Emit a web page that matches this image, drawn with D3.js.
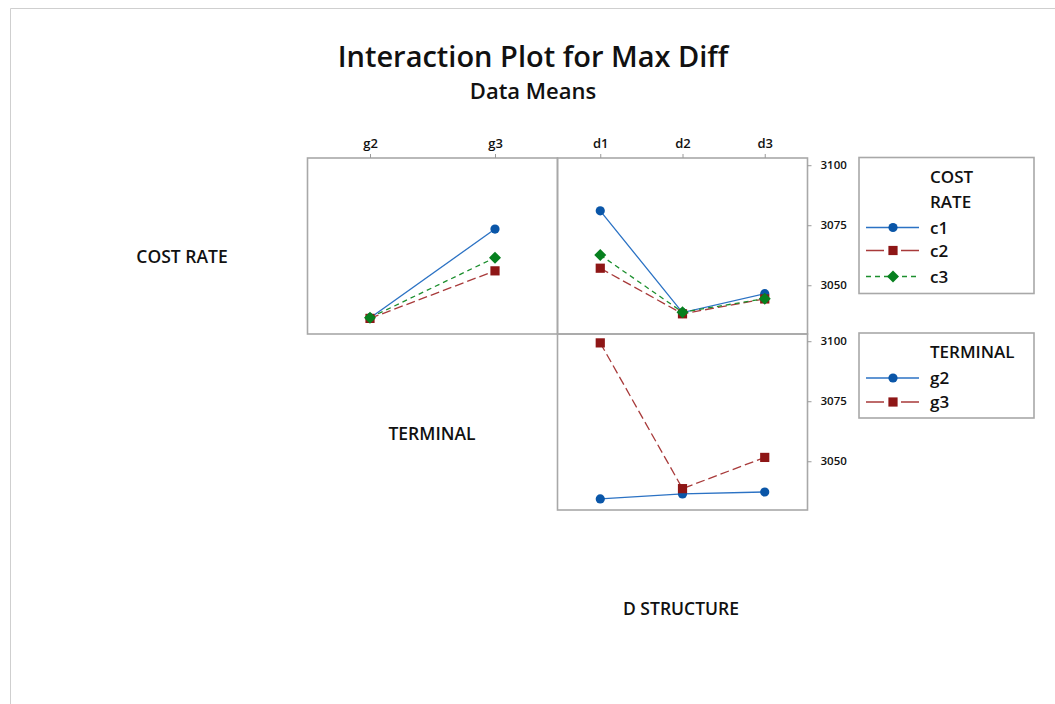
<!DOCTYPE html>
<html>
<head>
<meta charset="utf-8">
<script src="https://cdn.jsdelivr.net/npm/d3@7"></script>
<style>
  html, body { margin: 0; padding: 0; background: #ffffff; }
  svg { display: block; }
  text { font-family: "Open Sans", "Noto Sans", sans-serif; fill: #111; }
</style>
</head>
<body>
<svg id="chart" width="1055" height="704"></svg>
<script>
// Factor levels
const costRateLevels = ["c1", "c2", "c3"];
const terminalLevels = ["g2", "g3"];
const dStructureLevels = ["d1", "d2", "d3"];
const yTicks = [3050, 3075, 3100];

// Means of Max Diff: COST RATE traces over TERMINAL
const c1ByTerminal = [3036.4, 3073.4];
const c2ByTerminal = [3036.2, 3056.0];
const c3ByTerminal = [3036.5, 3061.5];

// Means of Max Diff: COST RATE traces over D STRUCTURE
const c1ByDStructure = [3081.0, 3038.6, 3046.5];
const c2ByDStructure = [3057.1, 3038.1, 3044.3];
const c3ByDStructure = [3062.6, 3038.8, 3044.4];

// Means of Max Diff: TERMINAL traces over D STRUCTURE
const g2ByDStructure = [3034.3, 3036.4, 3037.2];
const g3ByDStructure = [3099.3, 3038.6, 3051.6];

const svg = d3.select("#chart");

// series styles
const styles = {
  c1: { line: "#2b72c4", fill: "#0a56a8", dash: null, shape: "circle" },
  c2: { line: "#a83a3a", fill: "#8e1616", dash: "9,4", shape: "square" },
  c3: { line: "#1c8f2e", fill: "#07801f", dash: "5,4", shape: "diamond" },
  g2: { line: "#2b72c4", fill: "#0a56a8", dash: null, shape: "circle" },
  g3: { line: "#a83a3a", fill: "#8e1616", dash: "9,4", shape: "square" }
};

function drawMarker(g, shape, x, y, color) {
  if (shape === "circle") {
    g.append("circle").attr("cx", x).attr("cy", y).attr("r", 4.6).attr("fill", color);
  } else if (shape === "square") {
    g.append("rect").attr("x", x - 4.6).attr("y", y - 4.6).attr("width", 9.2).attr("height", 9.2).attr("fill", color);
  } else {
    g.append("path")
      .attr("d", d3.symbol().type(d3.symbolSquare).size(72)())
      .attr("transform", `translate(${x},${y}) rotate(45)`)
      .attr("fill", color);
  }
}

// outer frame of the graph window
svg.append("path")
  .attr("d", "M10.5,704 V8.5 H1055")
  .attr("fill", "none").attr("stroke", "#cfcfcf").attr("stroke-width", 1);

// titles
svg.append("text").attr("x", 533).attr("y", 67).attr("text-anchor", "middle")
  .style("font-size", "29px").style("font-weight", 600).text("Interaction Plot for Max Diff");
svg.append("text").attr("x", 533).attr("y", 99).attr("text-anchor", "middle")
  .style("font-size", "22px").style("font-weight", 600).text("Data Means");

// panel geometry
const panelW = 250, panelH = 176;
const col0 = 307.5, col1 = 557.5;
const row0 = 158, row1 = 334;

const y = d3.scaleLinear().domain([3029.7, 3103.0]).range([panelH, 0]);
const xTerminal = d3.scalePoint().domain(terminalLevels).range([0, panelW]).padding(0.5);
const xDStructure = d3.scalePoint().domain(dStructureLevels).range([0, panelW]).padding(0.52);

function panel(px, py, xScale, series) {
  const g = svg.append("g").attr("transform", `translate(${px},${py})`);
  g.append("rect").attr("width", panelW).attr("height", panelH)
    .attr("fill", "none").attr("stroke", "#a8a8a8").attr("stroke-width", 1.6);
  const line = d3.line().x((d, i) => xScale(xScale.domain()[i])).y(d => y(d));
  series.forEach(s => {
    const st = styles[s.key];
    g.append("path").attr("d", line(s.values))
      .attr("fill", "none").attr("stroke", st.line).attr("stroke-width", 1.3)
      .attr("stroke-dasharray", st.dash);
  });
  series.forEach(s => {
    const st = styles[s.key];
    s.values.forEach((v, i) => drawMarker(g, st.shape, xScale(xScale.domain()[i]), y(v), st.fill));
  });
  return g;
}

panel(col0, row0, xTerminal, [
  { key: "c1", values: c1ByTerminal },
  { key: "c2", values: c2ByTerminal },
  { key: "c3", values: c3ByTerminal }
]);
panel(col1, row0, xDStructure, [
  { key: "c1", values: c1ByDStructure },
  { key: "c2", values: c2ByDStructure },
  { key: "c3", values: c3ByDStructure }
]);
panel(col1, row1, xDStructure, [
  { key: "g2", values: g2ByDStructure },
  { key: "g3", values: g3ByDStructure }
]);

// top category axes
function topAxis(px, xScale) {
  const g = svg.append("g").attr("transform", `translate(${px},${row0})`)
    .call(d3.axisTop(xScale).tickSize(4).tickPadding(6));
  g.select(".domain").remove();
  g.selectAll(".tick line").attr("stroke", "#9a9a9a");
  g.selectAll(".tick text").style("font-size", "13px").style("font-weight", 600)
    .style("font-family", "'Open Sans', sans-serif").attr("fill", "#222");
}
topAxis(col0, xTerminal);
topAxis(col1, xDStructure);

// right value axes
function rightAxis(py) {
  const g = svg.append("g").attr("transform", `translate(${col1 + panelW},${py})`)
    .call(d3.axisRight(y).tickValues(yTicks).tickSize(4).tickPadding(9).tickFormat(d3.format("d")));
  g.select(".domain").remove();
  g.selectAll(".tick line").attr("stroke", "#9a9a9a");
  g.selectAll(".tick text").style("font-size", "11.5px").style("font-weight", 600)
    .style("font-family", "'Open Sans', sans-serif").attr("fill", "#222");
}
rightAxis(row0);
rightAxis(row1);

// factor labels
const factorStyle = t => t.style("font-size", "17.5px").style("font-weight", 600).attr("text-anchor", "middle");
svg.append("text").attr("x", 182).attr("y", 263).text("COST RATE").call(factorStyle);
svg.append("text").attr("x", 432).attr("y", 440).text("TERMINAL").call(factorStyle);
svg.append("text").attr("x", 681).attr("y", 615).text("D STRUCTURE").call(factorStyle);

// legends
function legend(top, height, titleLines, keys, rowYs) {
  const g = svg.append("g").attr("transform", `translate(859,${top})`);
  g.append("rect").attr("width", 175).attr("height", height)
    .attr("fill", "#fff").attr("stroke", "#a8a8a8").attr("stroke-width", 1.6);
  titleLines.forEach((t, i) => {
    g.append("text").attr("x", 71).attr("y", 25 + i * 25).text(t)
      .style("font-size", "17px").style("font-weight", 600);
  });
  keys.forEach((k, i) => {
    const st = styles[k];
    const ry = rowYs[i];
    g.append("line").attr("x1", 7).attr("x2", 60).attr("y1", ry).attr("y2", ry)
      .attr("stroke", st.line).attr("stroke-width", 1.5)
      .attr("stroke-dasharray", st.dash === "5,4" ? "5,4" : (st.dash ? "18,17" : null));
    drawMarker(g, st.shape, 34, ry, st.fill);
    g.append("text").attr("x", 71).attr("y", ry + 6).text(k)
      .style("font-size", "17px").style("font-weight", 600);
  });
}
legend(157.5, 136, ["COST", "RATE"], costRateLevels, [70, 93, 119]);
legend(333, 85, ["TERMINAL"], terminalLevels, [45, 69]);
</script>
</body>
</html>
